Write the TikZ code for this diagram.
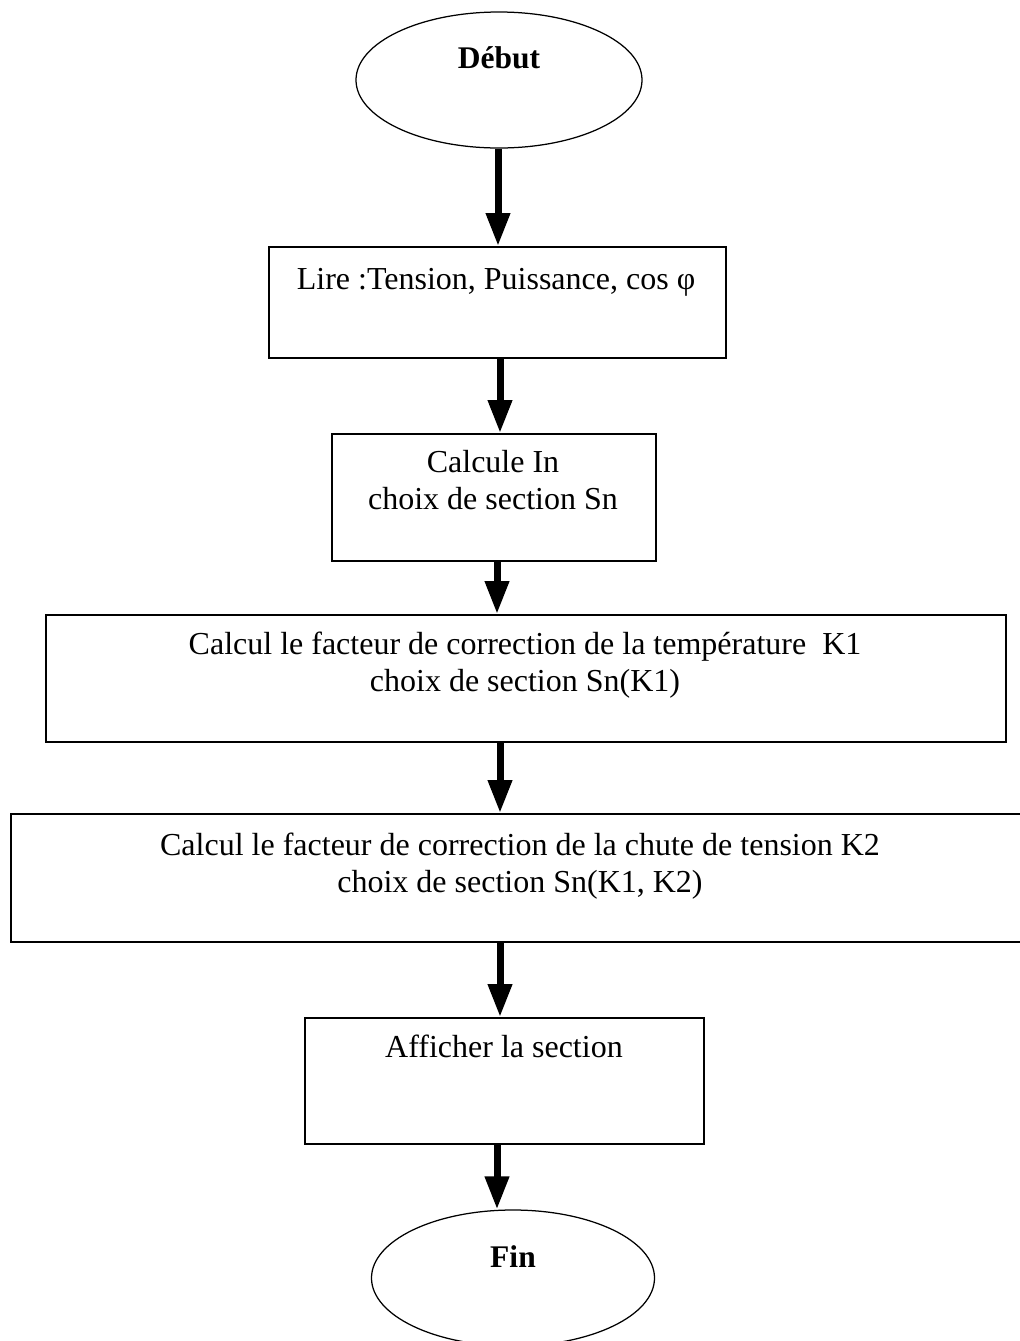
\documentclass[tikz,border=0pt]{standalone}
\usepackage{fontspec}
\setmainfont{Liberation Serif}
\usetikzlibrary{shapes.geometric,arrows.meta,calc}
\begin{document}
\begin{tikzpicture}[x=0.4pt,y=-0.4pt,
  boxnode/.style={draw, line width=0.8pt, rectangle, inner sep=0pt, anchor=north west},
  ovalnode/.style={draw, line width=0.5pt, ellipse, inner sep=0pt},
  txt/.style={font=\fontsize{12.8pt}{14.8pt}\selectfont, inner sep=0pt, anchor=base, align=center},
  boldtxt/.style={font=\fontsize{12.6pt}{14.8pt}\selectfont\bfseries, inner sep=0pt, anchor=base},
  flow/.style={line width=2.8pt, -{Triangle[width=9.2pt,length=13.2pt]}}]
\clip (0,0) rectangle (1020,1341);
\fill[white] (0,0) rectangle (1020,1341);
% shapes
\node[ovalnode, minimum width=114.4pt, minimum height=54.4pt] (deb) at (499,80) {};
\node[boxnode, minimum width=182.8pt, minimum height=44.4pt] (b1) at (268,246) {};
\node[boxnode, minimum width=129.6pt, minimum height=50.8pt] (b2) at (331,433) {};
\node[boxnode, minimum width=384pt, minimum height=50.8pt] (b3) at (45,614) {};
\node[boxnode, minimum width=408pt, minimum height=51.2pt] (b4) at (10,813) {};
\node[boxnode, minimum width=159.6pt, minimum height=50.4pt] (b5) at (304,1017) {};
\node[ovalnode, minimum width=113.2pt, minimum height=54.4pt] (fin) at (513,1278) {};
% texts (base anchor = baseline of the last line)
\node[boldtxt] (tdeb) at (499,68) {Début};
\node[txt] (t1) at (496,289) {Lire :Tension, Puissance, cos φ};
\node[txt] (t2) at (493,509) {Calcule In\\choix de section Sn};
\node[txt] (t3) at (525,691) {Calcul le facteur de correction de la température~~K1\\choix de section Sn(K1)};
\node[txt] (t4) at (520,892) {Calcul le facteur de correction de la chute de tension K2\\choix de section Sn(K1, K2)};
\node[txt] (t5) at (504,1057) {Afficher la section};
\node[boldtxt] (tfin) at (513,1267) {Fin};
% arrows
\coordinate (a1) at (498,0);
\coordinate (a2) at (500,0);
\coordinate (a3) at (497,0);
\coordinate (a4) at (500,0);
\coordinate (a5) at (500,0);
\coordinate (a6) at (497,0);
\draw[flow] (deb.south -| a1) -- (b1.north -| a1);
\draw[flow] (b1.south -| a2) -- (b2.north -| a2);
\draw[flow] (b2.south -| a3) -- (b3.north -| a3);
\draw[flow] (b3.south -| a4) -- (b4.north -| a4);
\draw[flow] (b4.south -| a5) -- (b5.north -| a5);
\draw[flow] (b5.south -| a6) -- (fin.north -| a6);
\end{tikzpicture}
\end{document}
